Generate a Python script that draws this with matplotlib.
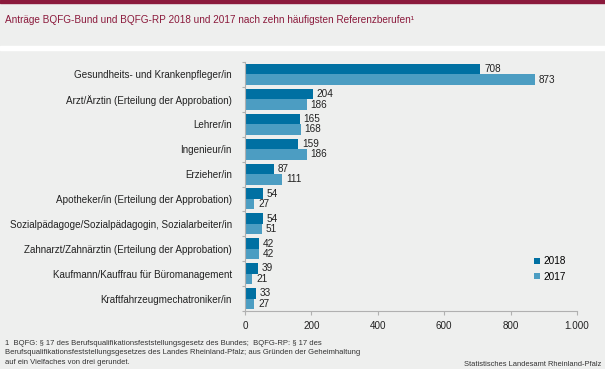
import numpy as np
import matplotlib
matplotlib.use('Agg')
from matplotlib import pyplot as plt
from matplotlib.patches import Rectangle

plt.rcParams['font.family'] = ['Liberation Sans', 'DejaVu Sans']

berufe = ['Gesundheits- und Krankenpfleger/in',
          'Arzt/Ärztin (Erteilung der Approbation)',
          'Lehrer/in',
          'Ingenieur/in',
          'Erzieher/in',
          'Apotheker/in (Erteilung der Approbation)',
          'Sozialpädagoge/Sozialpädagogin, Sozialarbeiter/in',
          'Zahnarzt/Zahnärztin (Erteilung der Approbation)',
          'Kaufmann/Kauffrau für Büromanagement',
          'Kraftfahrzeugmechatroniker/in']
werte_2018 = [708, 204, 165, 159, 87, 54, 54, 42, 39, 33]
werte_2017 = [873, 186, 168, 186, 111, 27, 51, 42, 21, 27]
x_ticks = [0, 200, 400, 600, 800, 1000]
x_ticklabels = ['0', '200', '400', '600', '800', '1.000']

bg = '#EEEFEE'
c2018 = '#0070A2'
c2017 = '#4C9DC2'
dunkelrot = '#8B1A3C'
textfarbe = '#222222'

fig = plt.figure(figsize=(6.05, 3.69), dpi=100, facecolor=bg)

# Kopfbereich: roter Strich oben, weisser Trennstreifen unter dem Titel
fig.patches.append(Rectangle((0, 1 - 2.5 / 369), 1, 2.5 / 369, transform=fig.transFigure,
                             color=dunkelrot, zorder=0))
fig.patches.append(Rectangle((0, 1 - 50 / 369), 1, 4.5 / 369, transform=fig.transFigure,
                             color='white', zorder=0))
fig.text(5 / 605, 1 - 20 / 369, 'Anträge BQFG-Bund und BQFG-RP 2018 und 2017 nach zehn häufigsten Referenzberufen¹',
         color=dunkelrot, fontsize=7.2, va='center', ha='left')

ax = fig.add_axes([245 / 605, 1 - 311 / 369, 332 / 605, 249 / 369])
ax.set_facecolor(bg)

y = np.arange(len(berufe))
h = 0.42
ax.barh(y - h / 2, werte_2018, height=h, color=c2018, label='2018')
ax.barh(y + h / 2, werte_2017, height=h, color=c2017, label='2017')

for yi, v in zip(y, werte_2018):
    ax.text(v + 12, yi - h / 2, str(v), va='center', ha='left', fontsize=7.2, color=textfarbe)
for yi, v in zip(y, werte_2017):
    ax.text(v + 12, yi + h / 2, str(v), va='center', ha='left', fontsize=7.2, color=textfarbe)

ax.set_xlim(0, 1000)
ax.set_ylim(len(berufe) - 0.5, -0.5)
ax.set_yticks(y)
ax.set_yticklabels(berufe, fontsize=7.1, color=textfarbe)
ax.set_yticks(np.arange(-0.5, len(berufe), 1), minor=True)
ax.tick_params(axis='y', which='major', length=0, pad=9.5)
ax.tick_params(axis='y', which='minor', length=2.5, color='#B0B0B0', width=0.8)
ax.set_xticks(x_ticks)
ax.set_xticklabels(x_ticklabels, fontsize=7.1, color=textfarbe)
ax.tick_params(axis='x', length=3, color='#B0B0B0', width=0.8, pad=4)

for s in ['top', 'right']:
    ax.spines[s].set_visible(False)
ax.spines['left'].set_color('#B0B0B0')
ax.spines['bottom'].set_color('#B0B0B0')
ax.spines['left'].set_linewidth(0.8)
ax.spines['bottom'].set_linewidth(0.8)

fig.legend(*ax.get_legend_handles_labels(), loc='upper left',
           bbox_to_anchor=(534 / 605, 1 - 256.5 / 369), frameon=False, fontsize=7.2,
           borderpad=0, borderaxespad=0, handlelength=0.55, handleheight=0.55,
           labelspacing=0.55, handletextpad=0.35)

fig.text(5 / 605, 1 - 353 / 369,
         '1  BQFG: § 17 des Berufsqualifikationsfeststellungsgesetz des Bundes;  BQFG-RP: § 17 des\n'
         'Berufsqualifikationsfeststellungsgesetzes des Landes Rheinland-Pfalz; aus Gründen der Geheimhaltung\n'
         'auf ein Vielfaches von drei gerundet.',
         fontsize=5.5, color='#333333', va='center', ha='left', linespacing=1.5)
fig.text(1 - 4 / 605, 1 - 364 / 369, 'Statistisches Landesamt Rheinland-Pfalz',
         fontsize=5.4, color='#333333', va='center', ha='right')

fig.savefig('out.png', dpi=100, facecolor=bg)
